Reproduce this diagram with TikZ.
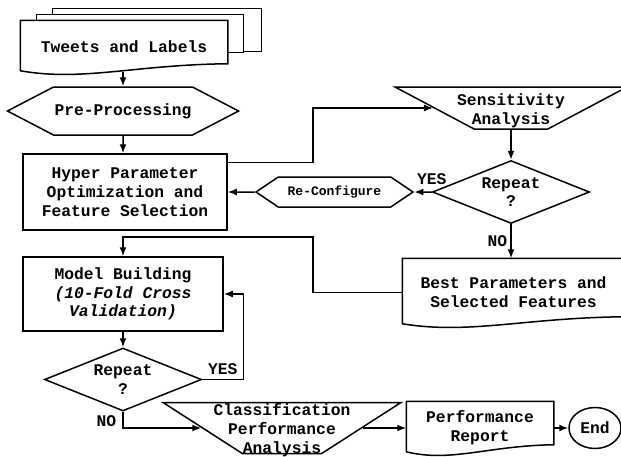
\documentclass[tikz,border=0pt]{standalone}
\usepackage{fontspec}
\setmainfont{Liberation Mono}
\usetikzlibrary{positioning,calc,shapes.geometric,shapes.symbols,arrows.meta,backgrounds}
\tikzstyle{block} = [draw, rectangle, align=center, inner sep=2pt]
\tikzstyle{doc} = [rectangle, fill=white, align=center, inner sep=2pt]
\tikzstyle{sheet} = [draw, fill=white]
\tikzstyle{prep} = [draw, signal, signal to=west and east, align=center, inner sep=1pt]
\tikzstyle{io} = [draw, trapezium, trapezium stretches=true, shape border rotate=180, align=center, inner sep=1pt]
\tikzstyle{decision} = [draw, diamond, inner sep=1pt, minimum width=157pt, minimum height=63pt]
\tikzstyle{term} = [draw, ellipse, inner sep=0pt, minimum width=52pt, minimum height=41pt]
\tikzstyle{flow} = [-{Latex[length=9pt,width=7pt]}]
\tikzstyle{lbl} = [inner sep=0pt]
\newcommand{\docoutline}[1]{%
  \draw ($(#1.south west)+(0,-3)$) -- (#1.north west) -- (#1.north east) -- ($(#1.south east)+(0,-10)$)
    .. controls ($(#1.south east)!0.45!(#1.south west)+(0,-9)$) and ($(#1.south east)!0.7!(#1.south west)+(0,8)$)
    .. ($(#1.south west)+(0,-3)$) -- cycle;}

\begin{document}
\begin{tikzpicture}[x=1pt, y=-1pt, line width=1.5pt, font=\bfseries\fontsize{16.3}{18.7}\selectfont]
\useasboundingbox (0,0) rectangle (621,456);
\node (tweets) [doc, minimum width=206pt, minimum height=52pt] at (124,47) {Tweets and Labels};
\begin{scope}[on background layer]
\draw[sheet] ($(tweets.north west)+(32,-12)$) rectangle ($(tweets.north east)+(33,31)$);
\draw[sheet] ($(tweets.north west)+(16,-6)$) rectangle ($(tweets.north east)+(15,32)$);
\end{scope}
\docoutline{tweets}
\node (pre) [prep, minimum width=230pt, minimum height=48pt, signal pointer angle=55] at (123,111) {Pre-Processing};
\node (hyper) [block, minimum width=204pt, minimum height=76pt] at (125,192) {Hyper Parameter\\Optimization and\\Feature Selection};
\node (sens) [io, minimum width=232pt, minimum height=42pt, trapezium angle=43] at (511,108) {};
\node (senstext) [align=center] at (511,110.5) {Sensitivity\\Analysis};
\node (rep1) [decision, label={[lbl, align=center]center:Repeat\\?}] at (511,192) {};
\node (reconf) [prep, minimum width=157pt, minimum height=30pt, signal pointer angle=68,
  font=\bfseries\fontsize{13}{15}\selectfont] at (334.5,192) {Re-Configure};
\node (best) [doc, minimum width=221pt, minimum height=67pt] at (513.5,292.5) {Best Parameters and\\Selected Features};
\docoutline{best}
\node (model) [block, minimum width=200pt, minimum height=74pt] at (123,294) {Model Building\\\textit{(10-Fold Cross}\\\textit{Validation)}};
\node (rep2) [decision, label={[lbl, align=center]center:Repeat\\?}] at (123,379.5) {};
\node (cpa) [io, minimum width=238pt, minimum height=51pt, trapezium angle=45] at (282,428) {};
\node (cpatext) [align=center] at (282,430) {Classification\\Performance\\Analysis};
\node (report) [doc, minimum width=146pt, minimum height=52pt] at (480,428) {Performance\\Report};
\docoutline{report}
\node (end) [term] at (595,428) {End};
\coordinate (turn) at (313,237);
\draw[flow] ($(tweets.south -| pre.north)+(0,-2)$) -- (pre.north);
\draw[flow] (pre) -- (pre |- hyper.north);
\draw[flow] ($(hyper.north east)+(0,9)$) -- ++(85,0) |- (sens);
\draw[flow] (sens) -- (rep1);
\draw[flow] (rep1.west) -- node[lbl, pos=0, above=7pt] {YES} (reconf);
\draw[flow] (reconf) -- (hyper);
\draw[flow] (rep1.south) -- node[lbl, left=3pt] {NO} (rep1.south |- best.north);
\draw[flow] (best) -| (turn) -| (model.north);
\draw[flow] (model) -- (rep2);
\draw[flow] (rep2.east) -- node[lbl, above=4pt] {YES} ++(41,0) |- (model.east);
\draw[flow] (rep2.south) |- node[lbl, left=6pt, pos=0.3] {NO} (cpa);
\draw[flow] (cpa) -- (report);
\draw[flow] (report) -- (end);
\end{tikzpicture}
\end{document}
